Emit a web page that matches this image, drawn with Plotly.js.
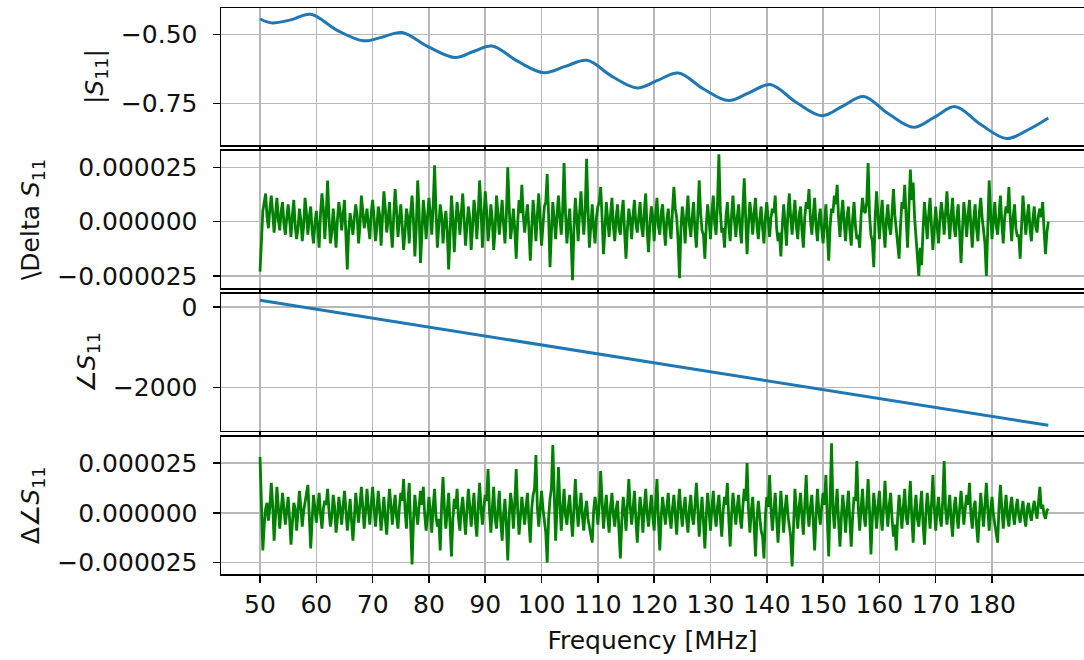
<!DOCTYPE html>
<html>
<head>
<meta charset="utf-8">
<script src="https://cdn.plot.ly/plotly-3.0.1.min.js"></script>
<style>html,body{margin:0;padding:0;background:#fff;}#chart{width:1084px;height:660px;}</style>
</head>
<body>
<div id="chart"></div>
<script>
// ---- Data ----
// |S11| (panel 1)
const magFreq = [50, 52, 55.5, 59, 63.7, 68.4, 71.8, 75.2, 80, 84.7, 88, 91.2, 95.8, 100.4, 104.2, 108.1, 112.5, 117, 120.6, 124.3, 128.7, 133.2, 136.9, 140.6, 145.2, 149.8, 153.5, 157.2, 161.6, 166.1, 169.8, 173.5, 178, 182.6, 186.5, 190];
const magS11 = [-0.444, -0.458, -0.447, -0.427, -0.485, -0.523, -0.509, -0.493, -0.546, -0.584, -0.561, -0.542, -0.598, -0.639, -0.616, -0.594, -0.652, -0.694, -0.667, -0.640, -0.697, -0.740, -0.711, -0.682, -0.746, -0.795, -0.760, -0.725, -0.788, -0.837, -0.800, -0.762, -0.827, -0.878, -0.845, -0.803];

// angle S11 (panel 3)
const phaseFreq = [50, 100, 150, 190];
const phaseS11 = [173, -939, -2051, -2940];

// residual noise series, sampled every 0.25 MHz from 50 MHz, values in units of 1e-6
const noiseStartMHz = 50;
const noiseStepMHz = 0.25;
const deltaS11_u = [
 -23, -8, 5, 9, 13, 2, -3, 6, 12, 4, -5, 3, 11, 1, -4, 5, 9, -1, -6, 2,
 8, 1, -7, 3, 10, -2, -8, -3, 6, 1, -9, -2, 11, 4, -6, 2, 7, -4, -10, -1,
 5, -3, -12, 4, 13, 6, -8, 3, 19, 2, -10, -5, 6, -2, -12, 1, 9, 4, -4, 3,
 10, -6, -22, -4, 4, -1, -6, 2, 8, 3, -10, -2, 12, 5, -3, 1, 6, -2, -8, 4,
 10, 2, -9, -3, 7, 3, -11, 2, 14, 6, -5, 1, 9, -4, -12, 3, 15, 5, -7, 1,
 8, -2, -13, -5, 6, 2, -10, 4, 12, 1, -16, -3, 19, 5, -19, -6, 10, 3, -8, 2,
 11, 4, -6, 7, 26, 5, -12, -2, 8, 3, -10, -1, 5, -4, -22, -6, 12, 2, -14, -1,
 9, 3, -6, 4, 13, 1, -11, -2, 7, 2, -13, -3, 10, 4, -8, 3, 19, 6, -12, 2,
 14, 5, -9, -2, 8, 1, -13, -4, 12, 4, -6, 2, 10, -1, -10, 3, 25, 7, -8, -2,
 6, -4, -17, -1, 10, 4, 17, 3, -5, 2, 8, -3, -18, -4, 10, 2, -9, 3, 13, 1,
 -11, -2, 7, 9, 22, 3, -21, -5, 9, 1, -8, 3, 12, 2, -6, 5, 27, 4, -10, -1,
 6, -8, -27, -3, 11, 2, -9, 4, 14, 3, -6, 5, 29, 6, -12, -2, 8, -3, -10, 2,
 7, 9, 16, 2, -15, -4, 9, 1, -7, 3, 11, -2, -9, 2, 8, -3, -6, 4, 10, -5,
 -17, -3, 6, 1, -8, 3, 10, -1, -5, 2, 9, -2, -7, 5, 13, -4, -14, -1, 7, 2,
 -9, 3, 11, -2, -6, 4, 8, -3, -11, 1, 6, -2, -8, 5, 16, 6, 2, -9, -26, -3,
 7, 1, -10, 3, 12, -1, -7, 2, 9, -4, -12, 3, 19, 4, -4, -6, -17, -2, 8, 1,
 -8, 4, 12, -1, -6, 9, 31, 5, -5, -3, -12, 2, 9, -2, -9, 3, 12, 1, -7, 2,
 8, -3, -10, 6, 20, 2, -15, -1, 9, 3, -6, 4, 11, -2, -8, 1, 7, -3, -10, 2,
 9, 1, -7, 2, 6, 4, 12, -3, -9, -5, -16, -2, 8, -1, -11, 4, 13, 2, -6, 3,
 10, -2, -8, 3, 7, -4, -12, 2, 9, 6, 15, 1, -6, 3, 11, -2, -9, 1, 6, -3,
 -10, -1, 8, -5, -18, -2, 6, 4, 12, 8, 17, 2, -7, 3, 10, -1, -9, 2, 7, -4,
 -11, 1, 9, -2, -8, -6, -12, 3, 11, 5, 4, 9, 27, 3, -6, -9, -21, 2, 14, 3,
 -8, 2, 10, -3, -12, 1, 8, -2, -6, 4, 15, 3, -4, -8, -17, -2, 9, 6, 17, 2,
 -12, 6, 24, 10, 18, 2, -8, -14, -25, -12, -20, -4, 9, 1, -8, 3, 11, -2, -13, -3,
 7, -2, -10, 1, 9, 3, -6, 4, 14, 2, -8, 3, 11, -2, -7, 2, 8, -5, -19, -4,
 9, 2, -7, 3, 10, -2, -12, 1, 8, -3, -9, 4, 11, 2, -6, -10, -25, 3, 19, 4,
 -8, 1, 9, -2, -6, 3, 12, -1, -10, 2, 7, 4, 16, 1, -9, 2, 8, -3, -7, -6,
 -17, -2, 12, 3, -6, 2, 8, -3, -9, 1, 7, -2, -5, 3, 6, 2, 9, -4, -15, -5,
 0
];
const deltaPhase_u = [
 28, 2, -19, -6, 2, 5, -4, 3, 15, 4, -14, -2, 13, 3, -8, 1, 10, 2, -6, 1,
 8, -3, -16, -5, 5, 2, -9, 1, 11, 3, -7, 1, 6, 9, 14, -2, -18, -4, 9, 2,
 -5, 3, 10, -1, -8, 2, 6, 4, 12, 1, -7, -2, 9, 3, -10, -3, 8, 2, -6, 3,
 11, 2, -9, -2, 7, -4, -14, -3, 10, 2, -5, 4, 13, 3, -8, 1, 12, 2, -6, 4,
 13, 3, -7, 1, 11, 2, -9, -1, 8, -3, -11, 2, 12, 4, -6, 2, 9, -2, -8, 3,
 10, 6, 17, 2, -8, 5, 15, -6, -26, -4, 9, 1, -6, 3, 11, 4, 13, -1, -9, -2,
 8, 1, -10, 3, 12, -2, -7, -3, -19, 4, 18, 2, -8, 1, 10, -6, -22, -3, 7, 2,
 12, -3, -9, 2, 8, -2, -11, 1, 12, 3, -7, 2, 10, -4, -12, 3, 15, 2, -6, 3,
 9, 6, 22, 1, -10, 2, 13, -3, -8, 2, 11, -4, -14, -1, 7, -6, -24, -2, 10, 4,
 -8, 5, 22, 2, -11, -2, 8, 1, -6, 3, 10, -4, -15, 2, 9, 12, 29, 3, -7, 2,
 11, 2, -6, -10, -25, -3, 7, 12, 34, 4, -14, 3, 23, 5, -9, 2, 12, -1, -6, 3,
 9, -3, -12, 2, 17, 3, -7, 2, 10, -2, -9, 1, 6, -3, -8, -11, -15, 1, 8, 3,
 -6, 4, 21, 2, -8, 1, 9, -2, -10, 3, 10, -1, -7, 2, 6, -9, -23, -4, 8, 1,
 -9, 4, 17, 3, -6, 2, 11, -3, -15, -2, 8, 1, -10, 3, 12, -1, -7, 2, 9, -2,
 -9, 4, 17, -3, -19, -2, 8, 1, -6, 3, 10, -2, -8, 2, 9, -1, -11, 3, 12, 1,
 -7, 2, 8, -3, -10, 2, 9, -2, -6, 4, 15, 2, -12, -1, 8, -4, -18, -2, 10, 1,
 -9, 2, 11, -1, -7, 3, 9, -2, -12, 1, 8, 4, 15, -3, -17, -1, 10, 2, -6, 3,
 9, -2, -8, 3, 12, 6, 25, 2, -10, 1, 8, -6, -22, -3, 6, -2, -9, -12, -23, -2,
 8, 3, 19, 2, -9, 1, 10, -3, -15, -2, 11, 1, -10, 2, 9, -1, -6, -12, -27, -3,
 12, 2, -8, 3, 10, -2, -11, 4, 19, 1, -7, 3, 9, -4, -19, -2, 12, 1, -6, 3,
 10, 4, 19, -3, -22, 6, 35, 2, -8, 3, 12, -4, -17, -2, 9, 1, -10, 2, 11, -4,
 -17, -2, 8, 6, 26, 3, -9, 2, 12, -1, -7, 4, 17, 1, -21, -3, 10, 2, -8, 3,
 11, -1, -9, 3, 16, 2, -7, 4, 10, -3, -12, -6, -19, -2, 9, 1, -8, 3, 12, -2,
 -6, 4, 16, -2, -15, 1, 9, -3, -7, 2, 11, -5, -16, -1, 10, 2, -8, 4, 19, 3,
 -9, 1, 8, -2, -7, 6, 26, 2, -6, 1, 9, -4, -12, 2, 8, -1, -8, 2, 11, 3,
 -6, 2, 9, 4, 15, -1, -8, 2, 6, -6, -15, -2, 10, 1, -7, 4, 15, 2, -9, 1,
 8, -1, -6, -9, -15, 3, 14, 2, -8, 1, 9, -2, -7, 3, 8, -1, -6, 2, 7, -1,
 -5, 1, 6, -2, -7, 2, 5, -1, -4, 2, 6, 1, -3, 5, 13, 2, 4, -1, -3, 1,
 2
];

// tick labels
const freqTicks = [50, 60, 70, 80, 90, 100, 110, 120, 130, 140, 150, 160, 170, 180];
const magTicks = [-0.75, -0.5];
const noiseTicks = [-0.000025, 0, 0.000025];
const phaseTicks = [-2000, 0];

// ---- build traces ----
const noiseFreq = deltaS11_u.map((_, i) => noiseStartMHz + i * noiseStepMHz);
const noiseFreq2 = deltaPhase_u.map((_, i) => noiseStartMHz + i * noiseStepMHz);
const deltaS11 = deltaS11_u.map(v => v * 1e-6);
const deltaPhase = deltaPhase_u.map(v => v * 1e-6);

const blue = '#1f77b4', green = '#008000';
const traces = [
  {x: magFreq, y: magS11, xaxis: 'x', yaxis: 'y', mode: 'lines', line: {color: blue, width: 3, shape: 'spline', smoothing: 1}},
  {x: noiseFreq, y: deltaS11, xaxis: 'x2', yaxis: 'y2', mode: 'lines', line: {color: green, width: 2.8}},
  {x: phaseFreq, y: phaseS11, xaxis: 'x3', yaxis: 'y3', mode: 'lines', line: {color: blue, width: 3}},
  {x: noiseFreq2, y: deltaPhase, xaxis: 'x4', yaxis: 'y4', mode: 'lines', line: {color: green, width: 2.8}}
];

const font = {family: 'DejaVu Sans', size: 25, color: '#111'};
const common = {
  showline: true, linecolor: '#000', linewidth: 1.5,
  ticks: 'outside', ticklen: 7, tickwidth: 1.5, tickcolor: '#000',
  showgrid: true, gridcolor: '#b8b8b8', gridwidth: 1.5, zeroline: false,
  tickfont: font
};
const xRange = [43.07, 196.34];
function xa(anchor, labels) {
  return Object.assign({}, common, {
    anchor: anchor, range: xRange, tickmode: 'array', tickvals: freqTicks,
    showticklabels: labels, mirror: true
  });
}
function ya(anchor, domain, range, ticks, fmt, title) {
  return Object.assign({}, common, {
    anchor: anchor, domain: domain, range: range, tickmode: 'array', tickvals: ticks,
    tickformat: fmt, mirror: false, ticklabelstandoff: 10, automargin: true,
    title: {text: title, font: font, standoff: 10}
  });
}

const layout = {
  width: 1084, height: 660,
  margin: {l: 221, r: 0, t: 8, b: 86},
  paper_bgcolor: '#fff', plot_bgcolor: '#fff',
  showlegend: false,
  font: font,
  xaxis: xa('y', false),
  xaxis2: Object.assign(xa('y2', false), {matches: 'x'}),
  xaxis3: Object.assign(xa('y3', false), {matches: 'x'}),
  xaxis4: Object.assign(xa('y4', true), {matches: 'x', title: {text: 'Frequency [MHz]', font: font, standoff: 14}}),
  yaxis: ya('x', [0.7576, 1], [-0.902, -0.404], magTicks, '.2f', '|<i>S</i><sub>11</sub>|'),
  yaxis2: ya('x2', [0.5051, 0.7475], [-0.0000306, 0.0000326], noiseTicks, '.6f', '\\Delta <i>S</i><sub>11</sub>'),
  yaxis3: ya('x3', [0.2527, 0.4951], [-3080, 335], phaseTicks, 'd', '∠<i>S</i><sub>11</sub>'),
  yaxis4: ya('x4', [0, 0.2424], [-0.0000308, 0.0000382], noiseTicks, '.6f', 'Δ∠<i>S</i><sub>11</sub>')
};

Plotly.newPlot('chart', traces, layout, {staticPlot: true, displayModeBar: false});
</script>
</body>
</html>
